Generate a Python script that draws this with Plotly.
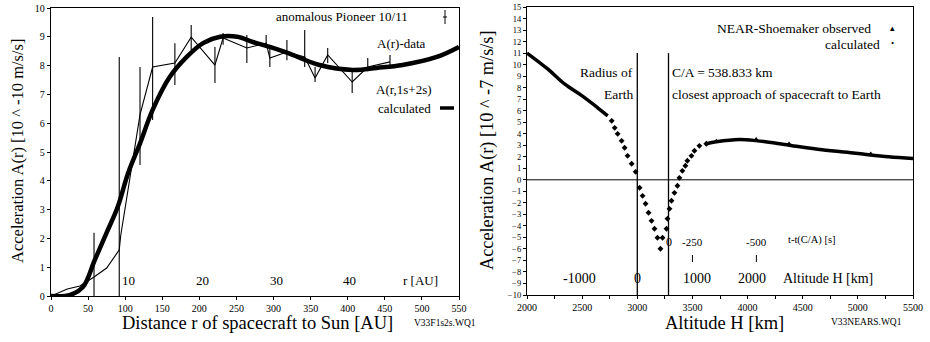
import plotly.graph_objects as go

W, H = 930, 342
def px(x): return x / W
def py(y): return 1 - y / H

# ---------- Left panel data (Pioneer) ----------
pio_r = [0, 22, 39, 58, 75, 92, 94, 120, 137, 167, 189, 221, 232, 264, 290, 295, 318, 342, 356, 373, 406, 427, 457]
pio_a = [0.0, 0.24, 0.35, 0.66, 0.97, 1.6, 2.1, 6.3, 7.95, 8.09, 8.99, 8.02, 8.96, 8.61, 8.78, 8.26, 8.47, 8.30, 7.57, 8.37, 7.43, 7.95, 8.13]
pio_hi = [None, None, None, 2.2, None, 8.3, None, 7.95, 9.69, 8.78, 9.41, 8.65, 9.13, 9.06, 9.06, 8.61, 8.89, 9.24, 7.95, 8.61, 7.85, 8.26, 8.37]
pio_lo = [None, None, None, 0.0, None, 0.0, None, 4.55, 6.11, 7.33, 8.54, 7.40, 8.72, 8.09, 8.61, 7.95, 8.19, 7.95, 7.43, 8.09, 7.05, 7.80, 7.92]

calc_r = [0, 26, 43, 59, 75, 90, 104, 120, 137, 160, 183, 205, 228, 251, 272, 295, 319, 362, 407, 439, 474, 520, 550]
calc_a = [0.0, 0.04, 0.31, 1.25, 2.2, 3.1, 4.27, 5.3, 6.46, 7.6, 8.3, 8.78, 9.0, 9.0, 8.82, 8.65, 8.44, 8.02, 7.85, 7.92, 8.02, 8.3, 8.65]

x1_ticks = [0, 50, 100, 150, 200, 250, 300, 350, 400, 450, 500, 550]
y1_ticks = list(range(0, 11))
au_labels = ["10", "20", "30", "40"]
au_pos = [104, 204, 304, 403]

# ---------- Right panel data (NEAR flyby) ----------
dense1_h = [2000, 2190, 2343, 2497, 2641, 2732]
dense1_a = [11.0, 9.6, 8.3, 7.3, 6.25, 5.55]
dots_h = [2768, 2795, 2822, 2858, 2885, 2912, 2949, 2985, 3021, 3048, 3075, 3102, 3129, 3156,
          3183, 3210, 3229, 3265, 3274, 3292, 3310, 3337, 3364, 3382, 3409, 3436, 3454, 3491,
          3518, 3563, 3626]
dots_a = [5.12, 4.51, 3.99, 3.38, 2.78, 2.08, 1.39, 0.69, -0.69, -1.39, -2.08, -2.86, -3.56, -4.25,
          -5.03, -5.99, -5.03, -4.25, -3.38, -2.52, -1.82, -1.13, -0.52, 0.17, 0.78, 1.22, 1.65, 2.08,
          2.52, 2.95, 3.13]
dense2_h = [3626, 3716, 3924, 4078, 4376, 4674, 4981, 5279, 5500]
dense2_a = [3.13, 3.3, 3.5, 3.4, 3.0, 2.6, 2.3, 2.0, 1.85]
obs_h = [3716, 4078, 4376, 5117]
obs_a = [3.35, 3.5, 3.1, 2.25]

radius_h = 3000
ca_h = 3283
x2_ticks = [2000, 2500, 3000, 3500, 4000, 4500, 5000, 5500]
y2_ticks = list(range(-10, 16))
alt_labels = ["-1000", "0", "1000", "2000"]
alt_pos = [2480, 3000, 3540, 4040]
time_labels = ["-250", "-500"]
time_pos = [3500, 4080]

FONT = "Liberation Serif"
fig = go.Figure()

# Left: calculated thick curve
fig.add_trace(go.Scatter(x=calc_r, y=calc_a, mode="lines",
                         line=dict(color="black", width=4.5, shape="spline", smoothing=1.0),
                         xaxis="x", yaxis="y", showlegend=False))
# Left: data line with error bars
err_plus = [(h - a) if h is not None else 0 for h, a in zip(pio_hi, pio_a)]
err_minus = [(a - l) if l is not None else 0 for l, a in zip(pio_lo, pio_a)]
fig.add_trace(go.Scatter(x=pio_r, y=pio_a, mode="lines", line=dict(color="black", width=1.1),
                         error_y=dict(type="data", array=err_plus, arrayminus=err_minus, symmetric=False,
                                      color="black", thickness=1.1, width=0),
                         xaxis="x", yaxis="y", showlegend=False))

# Right panel
fig.add_trace(go.Scatter(x=dense1_h, y=dense1_a, mode="lines", line=dict(color="black", width=3.5, shape="spline"),
                         xaxis="x2", yaxis="y2", showlegend=False))
fig.add_trace(go.Scatter(x=dense2_h, y=dense2_a, mode="lines", line=dict(color="black", width=3.5, shape="spline"),
                         xaxis="x2", yaxis="y2", showlegend=False))
fig.add_trace(go.Scatter(x=dots_h, y=dots_a, mode="markers", marker=dict(color="black", size=4.5, symbol="diamond"),
                         xaxis="x2", yaxis="y2", showlegend=False))
fig.add_trace(go.Scatter(x=obs_h, y=obs_a, mode="markers", marker=dict(color="black", size=5, symbol="triangle-up"),
                         xaxis="x2", yaxis="y2", showlegend=False))

axis_common = dict(showgrid=False, zeroline=False, showline=True, linecolor="black", linewidth=1.3,
                   mirror=True, ticks="outside", ticklen=3, tickcolor="black", automargin=False,
                   tickfont=dict(family=FONT, size=10, color="black"))

fig.update_layout(
    width=W, height=H, margin=dict(l=0, r=0, t=0, b=0, autoexpand=False),
    paper_bgcolor="white", plot_bgcolor="white",
    xaxis=dict(domain=[px(51), px(459)], range=[0, 550], tickvals=x1_ticks, anchor="y", **axis_common),
    yaxis=dict(domain=[py(296), py(8)], range=[0, 10], tickvals=y1_ticks, anchor="x", **axis_common),
    xaxis2=dict(domain=[px(527), px(913)], range=[2000, 5500], tickvals=x2_ticks, anchor="y2",
                minor=dict(dtick=250, ticks="outside", ticklen=3, tickcolor="black"), **axis_common),
    yaxis2=dict(domain=[py(295), py(7)], range=[-10, 15], tickvals=y2_ticks, anchor="x2",
                **{**axis_common, "tickfont": dict(family=FONT, size=8.5, color="black")}),
)

shapes = []
shapes.append(dict(type="line", xref="x2", yref="y2", x0=2000, x1=5500, y0=0, y1=0, line=dict(color="black", width=1)))
shapes.append(dict(type="line", xref="x2", yref="y2", x0=radius_h, x1=radius_h, y0=-10, y1=11, line=dict(color="black", width=1.3)))
shapes.append(dict(type="line", xref="x2", yref="y2", x0=ca_h, x1=ca_h, y0=-10, y1=11, line=dict(color="black", width=1.3)))
for t in time_pos:
    shapes.append(dict(type="line", xref="x2", yref="paper", x0=t, x1=t, y0=py(262), y1=py(255), line=dict(color="black", width=1)))
shapes.append(dict(type="line", xref="paper", yref="paper", x0=px(445), x1=px(445), y0=py(24), y1=py(10), line=dict(color="black", width=1)))
shapes.append(dict(type="line", xref="paper", yref="paper", x0=px(443), x1=px(447), y0=py(17), y1=py(17), line=dict(color="black", width=1)))
shapes.append(dict(type="line", xref="paper", yref="paper", x0=px(440), x1=px(454), y0=py(108), y1=py(108), line=dict(color="black", width=3.5)))
fig.update_layout(shapes=shapes)

ann = []
def A(text, x, y, size=13, xanchor="center", yanchor="middle", angle=0, xref="paper", yref="paper"):
    ann.append(dict(text=text, x=x, y=y, xref=xref, yref=yref, showarrow=False, textangle=angle,
                    xanchor=xanchor, yanchor=yanchor, font=dict(family=FONT, size=size, color="black")))

# left panel texts
A("Acceleration A(r) [10 ^ -10 m/s/s]", px(17), py(151), size=16.5, angle=-90)
A("Distance r of spacecraft to Sun [AU]", px(257), py(323), size=18.5)
A("V33F1s2s.WQ1", px(445), py(323), size=9.5)
A("anomalous Pioneer 10/11", px(410), py(17), size=13, xanchor="right")
A("A(r)-data", px(428), py(43), size=13, xanchor="right")
A("A(r,1s+2s)", px(434), py(90), size=13, xanchor="right")
A("calculated", px(433), py(108), size=13, xanchor="right")
for lab, pos in zip(au_labels, au_pos):
    A(lab, pos, py(280), size=13, xref="x")
A("r [AU]", px(420), py(280), size=13)

# right panel texts
A("Acceleration A(r) [10 ^ -7 m/s/s]", px(487), py(150), size=18.3, angle=-90)
A("Altitude H [km]", px(724), py(323), size=18.5)
A("V33NEARS.WQ1", px(866), py(322), size=9.5)
A("NEAR-Shoemaker observed", px(873), py(28), size=13.5, xanchor="right")
A("\u25b4", px(892), py(28), size=9)
A("calculated", px(882), py(45), size=13.5, xanchor="right")
A("\u2022", px(892), py(43), size=9)
A("Radius of", px(635), py(72), size=13.5, xanchor="right")
A("Earth", px(635), py(94), size=13.5, xanchor="right")
A("C/A = 538.833 km", px(670), py(72), size=13.5, xanchor="left")
A("closest approach of spacecraft to Earth", px(670), py(94), size=13.5, xanchor="left")
for lab, pos in zip(alt_labels, alt_pos):
    A(lab, pos, py(278), size=14, xref="x2")
A("Altitude H [km]", px(828), py(278), size=14)
for lab, pos in zip(time_labels, time_pos):
    A(lab, pos, py(242), size=11, xref="x2")
A("0", ca_h, py(242), size=12, xref="x2")
A("t-t(C/A) [s]", px(812), py(240), size=10.5)
fig.update_layout(annotations=ann)

fig.write_html("out.html")
